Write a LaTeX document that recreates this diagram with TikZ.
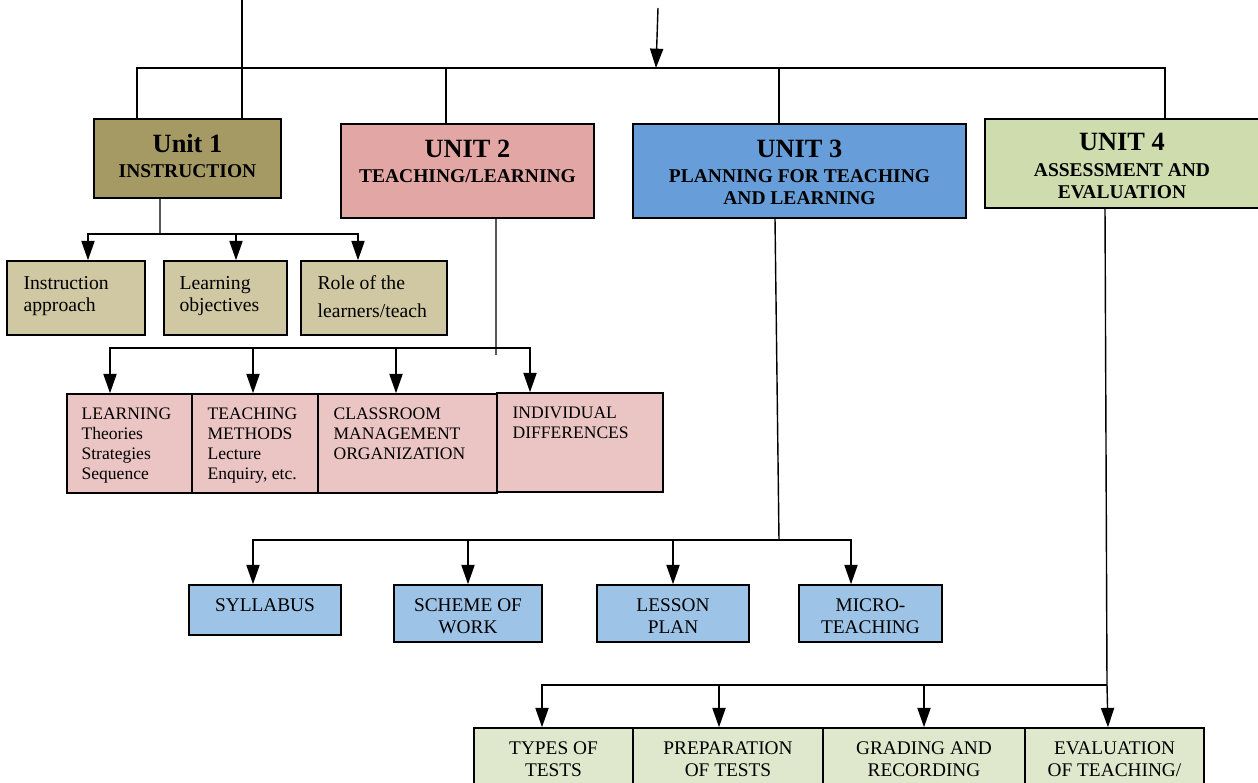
\documentclass[tikz,border=0pt]{standalone}
\usepackage{fontspec}
\setmainfont{Liberation Serif}
\usetikzlibrary{arrows.meta,positioning}
\definecolor{unitone}{HTML}{A59A63}
\definecolor{unittwo}{HTML}{E2A7A5}
\definecolor{unitthree}{HTML}{679ED9}
\definecolor{unitfour}{HTML}{CFDDAE}
\definecolor{subone}{HTML}{D0C7A3}
\definecolor{subtwo}{HTML}{EBC5C4}
\definecolor{subthree}{HTML}{9DC3E6}
\definecolor{subfour}{HTML}{DFE8CC}
\newcommand{\unitname}[1]{{\fontsize{15}{16}\selectfont #1}}
\tikzset{
  box/.style={draw=black, line width=0.9pt, inner sep=0pt},
  line/.style={draw=black, line width=0.8pt},
  arr/.style={line, -{Triangle[length=11pt,width=7.5pt]}},
  txt/.style={inner sep=0pt, align=left, font=\fontsize{11.2}{12.5}\selectfont},
  ptxt/.style={inner sep=0pt, align=left, font=\fontsize{10}{11.5}\selectfont},
  ctxt/.style={inner sep=0pt, align=center, font=\fontsize{11}{12.5}\selectfont},
  utxt/.style={inner sep=0pt, align=center, font=\bfseries\fontsize{11.1}{12.8}\selectfont},
}
\begin{document}
\begin{tikzpicture}[x=0.02cm, y=-0.02cm]
\clip (0,0) rectangle (1258,783);
\fill[white] (0,0) rectangle (1258,783);
% units
\node[box, fill=unitone, minimum width=3.74cm, minimum height=1.58cm] (u1) at (187.5,158.5) {};
\node[box, fill=unittwo, minimum width=5.06cm, minimum height=1.88cm] (u2) at (467.5,171) {};
\node[box, fill=unitthree, minimum width=6.66cm, minimum height=1.88cm] (u3) at (799.5,171) {};
\node[box, fill=unitfour, minimum width=5.54cm, minimum height=1.78cm] (u4) at (1123.5,163.5) {};
\node[utxt, below=0.32cm of u1.north] (u1t) {\unitname{Unit 1}\\[1.5pt]INSTRUCTION};
\node[utxt, below=0.32cm of u2.north] (u2t) {\unitname{UNIT 2}\\[1.5pt]TEACHING/LEARNING};
\node[utxt, below=0.32cm of u3.north] (u3t) {\unitname{UNIT 3}\\[1.5pt]PLANNING FOR TEACHING\\AND LEARNING};
\node[utxt, below=0.3cm of u4.north, xshift=-0.03cm] (u4t) {\unitname{UNIT 4}\\[1.5pt]ASSESSMENT AND\\EVALUATION};
% unit 1 parts
\node[box, fill=subone, minimum width=2.76cm, minimum height=1.48cm] (i1) at (76,298) {};
\node[box, fill=subone, minimum width=2.46cm, minimum height=1.48cm] (i2) at (225.5,298) {};
\node[box, fill=subone, minimum width=2.92cm, minimum height=1.48cm] (i3) at (374,298) {};
\node[txt, below right=0.31cm and 0.34cm of i1.north west] (i1t) {Instruction\\approach};
\node[txt, below right=0.31cm and 0.32cm of i2.north west] (i2t) {Learning\\objectives};
\node[txt, below right=0.31cm and 0.34cm of i3.north west] (i3t) {Role of the\\[3pt]learners/teach};
% unit 2 parts
\node[box, fill=subtwo, minimum width=2.5cm, minimum height=1.98cm] (p1) at (129.5,443.5) {};
\node[box, fill=subtwo, minimum width=2.52cm, minimum height=1.98cm] (p2) at (255,443.5) {};
\node[box, fill=subtwo, minimum width=3.58cm, minimum height=1.98cm] (p3) at (407.5,443.5) {};
\node[box, fill=subtwo, minimum width=3.32cm, minimum height=1.98cm] (p4) at (580,442.5) {};
\node[ptxt, below right=0.28cm and 0.3cm of p1.north west] (p1t) {LEARNING\\Theories\\Strategies\\Sequence};
\node[ptxt, below right=0.28cm and 0.32cm of p2.north west] (p2t) {TEACHING\\METHODS\\Lecture\\Enquiry, etc.};
\node[ptxt, below right=0.28cm and 0.32cm of p3.north west] (p3t) {CLASSROOM\\MANAGEMENT\\ORGANIZATION};
\node[ptxt, below right=0.28cm and 0.32cm of p4.north west] (p4t) {INDIVIDUAL\\DIFFERENCES};
% unit 3 parts
\node[box, fill=subthree, minimum width=3.04cm, minimum height=1.0cm] (b1) at (265,610) {};
\node[box, fill=subthree, minimum width=2.96cm, minimum height=1.14cm] (b2) at (468,613.5) {};
\node[box, fill=subthree, minimum width=3.04cm, minimum height=1.14cm] (b3) at (673,613.5) {};
\node[box, fill=subthree, minimum width=2.86cm, minimum height=1.14cm] (b4) at (870.5,613.5) {};
\node[ctxt, below=0.29cm of b1.north] (b1t) {SYLLABUS};
\node[ctxt, below=0.29cm of b2.north] (b2t) {SCHEME OF\\WORK};
\node[ctxt, below=0.29cm of b3.north] (b3t) {LESSON\\PLAN};
\node[ctxt, below=0.29cm of b4.north] (b4t) {MICRO-\\TEACHING};
% unit 4 parts
\node[box, fill=subfour, minimum width=3.18cm, minimum height=1.44cm] (g1) at (553.5,764) {};
\node[box, fill=subfour, minimum width=3.8cm, minimum height=1.44cm] (g2) at (728,764) {};
\node[box, fill=subfour, minimum width=4.04cm, minimum height=1.44cm] (g3) at (924,764) {};
\node[box, fill=subfour, minimum width=3.58cm, minimum height=1.44cm] (g4) at (1114.5,764) {};
\node[ctxt, below=0.28cm of g1.north] (g1t) {TYPES OF\\TESTS};
\node[ctxt, below=0.28cm of g2.north] (g2t) {PREPARATION\\OF TESTS};
\node[ctxt, below=0.28cm of g3.north] (g3t) {GRADING AND\\RECORDING};
\node[ctxt, below=0.28cm of g4.north] (g4t) {EVALUATION\\OF TEACHING/};
% top connectors
\coordinate (src) at (242,0);
\coordinate (top) at (658,8);
\coordinate (hub) at (656,68);
\coordinate (e2) at ([xshift=-0.43cm]u2.north);
\coordinate (e3) at ([xshift=-0.41cm]u3.north);
\draw[arr] (top) -- (hub);
\draw[line] ([xshift=-1.01cm]u1.north) |- (hub) -| ([xshift=0.83cm]u4.north);
\draw[line] (src) -- (src |- u1.north);
\draw[line] (e2) -- (e2 |- hub);
\draw[line] (e3) -- (e3 |- hub);
% unit 1 branch
\coordinate (d1) at ([xshift=-0.55cm]u1.south);
\coordinate (bus1) at (160,234);
\coordinate (a11) at ([xshift=0.24cm]i1.north);
\coordinate (a12) at ([xshift=0.21cm]i2.north);
\coordinate (a13) at ([xshift=-0.32cm]i3.north);
\draw[line] (d1) -- (bus1);
\draw[arr] (bus1) -| (a11);
\draw[arr] (bus1) -| (a13);
\draw[arr] (bus1 -| a12) -- (a12);
% unit 2 branch
\coordinate (d2) at ([xshift=0.57cm]u2.south);
\coordinate (d2end) at (496,355);
\coordinate (bus2) at (496,348);
\coordinate (a21) at ([xshift=-0.39cm]p1.north);
\coordinate (a22) at ([xshift=-0.04cm]p2.north);
\coordinate (a23) at ([xshift=-0.23cm]p3.north);
\coordinate (a24) at ([xshift=-1.0cm]p4.north);
\draw[line] (d2) -- (d2end);
\draw[arr] (bus2) -| (a21);
\draw[arr] (bus2) -| (a24);
\draw[arr] (bus2 -| a22) -- (a22);
\draw[arr] (bus2 -| a23) -- (a23);
% unit 3 branch
\coordinate (d3) at ([xshift=-0.49cm]u3.south);
\coordinate (bus3) at (779,540);
\coordinate (a31) at ([xshift=-0.24cm]b1.north);
\coordinate (a32) at (b2.north);
\coordinate (a33) at (b3.north);
\coordinate (a34) at ([xshift=-0.39cm]b4.north);
\draw[line] (d3) -- (bus3);
\draw[arr] (bus3) -| (a31);
\draw[arr] (bus3) -| (a34);
\draw[arr] (bus3 -| a32) -- (a32);
\draw[arr] (bus3 -| a33) -- (a33);
% unit 4 branch
\coordinate (d4) at ([xshift=-0.37cm]u4.south);
\coordinate (bus4) at (1107,685);
\coordinate (a41) at ([xshift=-0.23cm]g1.north);
\coordinate (a42) at ([xshift=-0.18cm]g2.north);
\coordinate (a43) at (g3.north);
\coordinate (a44) at ([xshift=-0.13cm]g4.north);
\draw[line] (d4) -- (bus4);
\draw[arr] (bus4) -- (a44);
\draw[arr] (bus4) -| (a41);
\draw[arr] (bus4 -| a42) -- (a42);
\draw[arr] (bus4 -| a43) -- (a43);
\end{tikzpicture}
\end{document}
